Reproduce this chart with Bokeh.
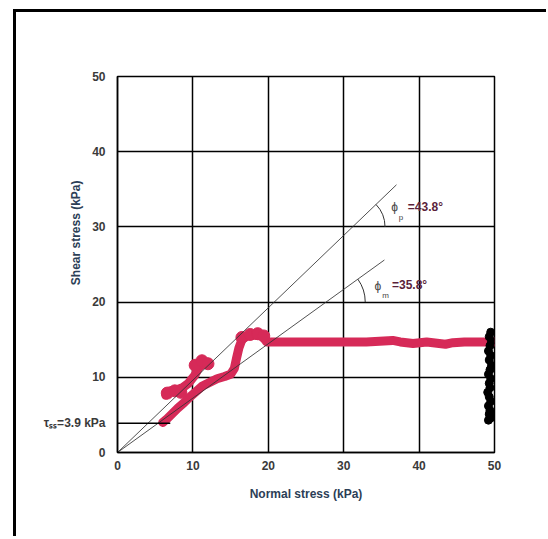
from bokeh.plotting import figure
from bokeh.models import Range1d, FixedTicker, Label
from bokeh.embed import file_html
from bokeh.resources import INLINE
import math

# ---- data ----
x_ticks = [0, 10, 20, 30, 40, 50]
y_ticks = [0, 10, 20, 30, 40, 50]

# measured shear/normal stress path (red)
red_x = [6.0, 6.6, 7.3, 8.0, 8.8, 9.5, 10.3, 11.2, 12.2, 13.2, 14.2, 15.0, 15.5, 15.8,
         16.1, 16.5, 17.2, 18.2, 19.2, 19.8, 21.0, 24.0, 27.0, 30.0, 33.0, 36.5, 37.5,
         39.2, 41.0, 43.5, 44.5, 46.0, 48.0, 50.0]
red_y = [4.0, 4.5, 5.2, 5.9, 6.6, 7.3, 8.0, 8.8, 9.3, 9.8, 10.1, 10.4, 11.2, 12.6,
         13.9, 15.0, 15.5, 15.6, 15.5, 14.7, 14.7, 14.7, 14.7, 14.7, 14.7, 14.9, 14.7,
         14.5, 14.7, 14.4, 14.6, 14.7, 14.7, 14.7]
# upper branch of the red path
red2_x = [6.4, 7.0, 7.8, 8.6, 9.4, 10.2, 10.8, 11.5, 12.0]
red2_y = [7.6, 8.2, 8.3, 8.6, 9.2, 10.2, 11.3, 11.9, 12.0]
# blobs on the red path
blob_x = [6.6, 7.6, 8.4, 10.3, 11.2, 12.0, 16.5, 17.6, 18.6, 19.4]
blob_y = [7.9, 8.2, 8.0, 11.6, 12.2, 11.8, 15.3, 15.7, 15.8, 15.5]

# black points at the end of the test
black_x = [49.5, 49.3, 49.6, 49.4, 49.2, 49.5, 49.3, 49.6, 49.4, 49.2, 49.5, 49.3,
           49.4, 49.1, 49.3, 49.5, 49.2, 49.4, 49.3, 49.5, 49.2, 49.4]
black_y = [16.0, 15.4, 14.8, 14.2, 13.5, 12.9, 12.3, 11.6, 11.0, 10.4, 9.8, 9.2,
           8.6, 8.0, 7.4, 6.8, 6.2, 5.6, 5.1, 4.6, 4.3, 5.3]

# failure envelopes (end points)
env_p_x = [0, 37.0]
env_p_y = [0, 35.6]
env_m_x = [0, 35.4]
env_m_y = [0, 25.6]
phi_p = 43.8
phi_m = 35.8
tau_ss = 3.9
tau_line_x = [-0.6, 7.0]

FONT = "Liberation Sans"

p = figure(width=546, height=536, frame_width=377, frame_height=376,
           x_range=Range1d(0, 50), y_range=Range1d(0, 50),
           output_backend="svg", toolbar_location=None,
           min_border_left=117, min_border_right=52,
           min_border_top=76, min_border_bottom=84)
# outer frame: top and left black edges drawn as CSS background lines
p.styles = {
    "background-image": "linear-gradient(black, black), linear-gradient(black, black)",
    "background-position": "13px 9px, 13px 9px",
    "background-size": "3px 100%, 100% 3px",
    "background-repeat": "no-repeat, no-repeat",
}
p.background_fill_color = "white"
p.border_fill_color = None
p.outline_line_color = "black"
p.outline_line_width = 1.5

for ax in (p.xaxis[0], p.yaxis[0]):
    ax.major_tick_in = 0
    ax.major_tick_out = 0
    ax.minor_tick_in = 0
    ax.minor_tick_out = 0
    ax.axis_line_color = "black"
    ax.axis_line_width = 1.5
    ax.major_label_text_font = FONT
    ax.major_label_text_font_style = "bold"
    ax.major_label_text_font_size = "12px"
    ax.major_label_text_color = "#3a3a3a"
    ax.axis_label_text_font = FONT
    ax.axis_label_text_font_style = "bold"
    ax.axis_label_text_font_size = "12px"
    ax.axis_label_text_color = "#2c3e56"

p.xaxis.ticker = FixedTicker(ticks=x_ticks)
p.yaxis.ticker = FixedTicker(ticks=y_ticks + [tau_ss])
p.yaxis.major_label_overrides = {tau_ss: "τₛₛ=%.1f kPa" % tau_ss}
p.xaxis.axis_label = "Normal stress (kPa)"
p.yaxis.axis_label = "\u00a0" * 19 + "Shear stress (kPa)"
p.xaxis.major_label_standoff = 8
p.yaxis.major_label_standoff = 12
p.xaxis.axis_label_standoff = 14
p.yaxis.axis_label_standoff = -42

p.xgrid.ticker = FixedTicker(ticks=x_ticks)
p.ygrid.ticker = FixedTicker(ticks=y_ticks)
p.grid.grid_line_color = "black"
p.grid.grid_line_width = 1.5
p.grid.grid_line_alpha = 1.0

RED = "#d62a58"

# red path
p.multi_line([red_x, red2_x], [red_y, red2_y], line_color=RED, line_width=9,
             line_join="round", line_cap="round")
p.scatter(blob_x, blob_y, size=12, color=RED)

# black points
p.scatter(black_x, black_y, size=8, color="black")

# envelopes
p.line(env_p_x, env_p_y, line_color="#333333", line_width=1, line_alpha=0.85)
p.line(env_m_x, env_m_y, line_color="#333333", line_width=1, line_alpha=0.85)

# angle arcs
cx1 = env_p_x[1] * 30 / env_p_y[1]
cx2 = env_m_x[1] * 20 / env_m_y[1]
p.arc(x=[cx1], y=[30], radius=4.3, start_angle=0, end_angle=math.radians(phi_p),
      line_color="#333333", line_width=1)
p.arc(x=[cx2], y=[20], radius=5.2, start_angle=0, end_angle=math.radians(phi_m),
      line_color="#333333", line_width=1)

# tau_ss line
p.line(tau_line_x, [tau_ss, tau_ss], line_color="black", line_width=1.5)

def lab(x, y, t, size, color, style="bold"):
    p.add_layout(Label(x=x, y=y, text=t, text_font=FONT, text_font_size=size,
                       text_font_style=style, text_color=color,
                       text_align="left", text_baseline="middle"))

lab(36.3, 32.6, "ϕ", "12px", "#444444", "normal")
lab(37.3, 31.3, "p", "8px", "#444444", "normal")
lab(38.5, 32.6, "=%.1f°" % phi_p, "12px", "#5b1f3a")

lab(34.1, 22.2, "ϕ", "12px", "#444444", "normal")
lab(35.1, 20.9, "m", "8px", "#444444", "normal")
lab(36.4, 22.3, "=%.1f°" % phi_m, "12px", "#5b1f3a")

open("out.html", "w").write(file_html(p, INLINE))
